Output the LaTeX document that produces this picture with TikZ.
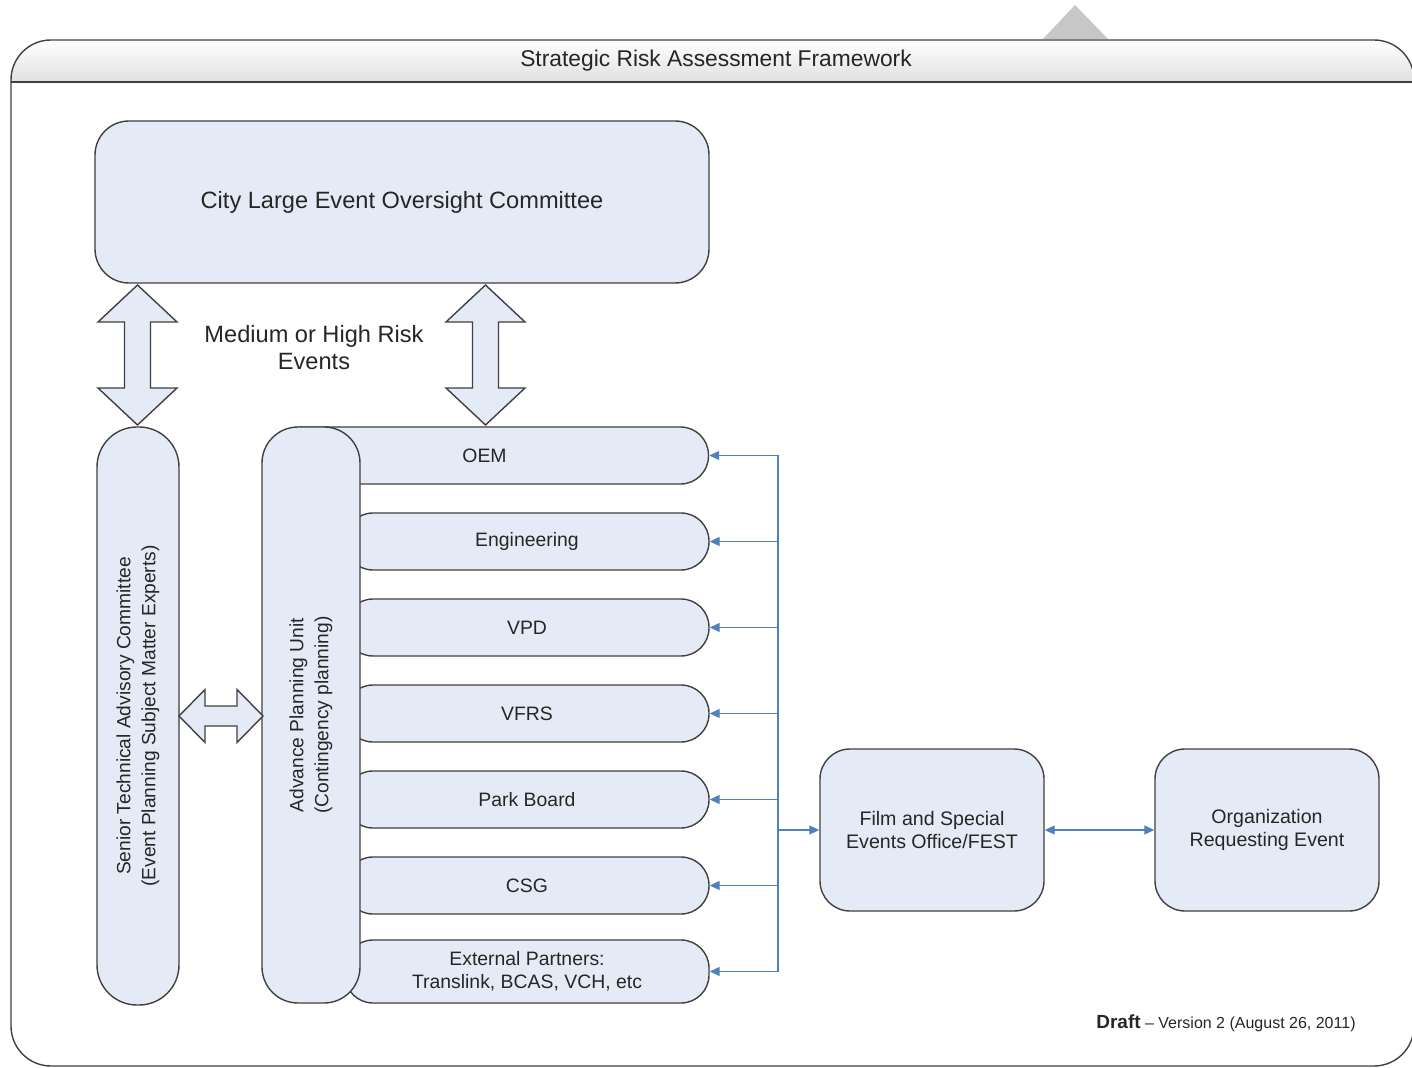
\documentclass[tikz,border=0pt]{standalone}
\usepackage{fontspec}
\setmainfont{Liberation Sans}
\usetikzlibrary{arrows.meta,positioning}
\definecolor{boxfill}{RGB}{229,235,246}
\definecolor{boxline}{RGB}{64,64,64}
\definecolor{linkblue}{RGB}{79,129,189}
\definecolor{headgray}{RGB}{224,224,224}

\tikzset{
  panel/.style={draw=boxline, fill=boxfill, line width=0.7pt, rounded corners=#1, align=center, inner sep=2pt, text=black!85},
  panel/.default=15pt,
  bar/.style={panel=14pt, minimum height=28.5pt, font=\fontsize{9.7}{11.5}\selectfont},
  bigarrow/.style={draw=boxline, fill=boxfill, line width=0.7pt, line join=miter},
  link/.style={draw=linkblue, line width=0.6pt, ->},
  >={Triangle[length=5pt,width=4.5pt]},
}

\begin{document}
\begin{tikzpicture}[x=0.5pt, y=-0.5pt]
  \useasboundingbox (0,0) rectangle (1412,1068);
  % grey marker on top of the frame
  \fill[black!22] (1043,39) -- (1075,5) -- (1108,39) -- cycle;
  % frame with header band
  \begin{scope}
    \clip[rounded corners=20pt] (11,1066) -- (11,40) -- (1414,40) -- (1414,1066) -- cycle;
    \shade[top color=white, bottom color=headgray] (11,40) rectangle (1414,82);
  \end{scope}
  \draw[boxline, line width=0.7pt, rounded corners=20pt] (11,1066) -- (11,40) -- (1414,40) -- (1414,1066) -- cycle;
  \draw[boxline, line width=0.7pt] (11,82) -- (1414,82);
  \node[text=black!85, font=\fontsize{11.4}{13}\selectfont] (title) at (716,61) {Strategic Risk Assessment Framework};

  % committee on top
  \node[panel=17pt, minimum width=307pt, minimum height=81pt, font=\fontsize{11.8}{14}\selectfont] (clec) at (402,202) {City Large Event Oversight Committee};
  \node[align=center, text=black!85, font=\fontsize{11.8}{13.5}\selectfont] (risk) at (314,348) {Medium or High Risk\\Events};

  % left column
  \node[panel=20pt, minimum width=289pt, minimum height=41pt, rotate=90, font=\fontsize{9.6}{12.5}\selectfont] (stac) at (138,716) {Senior Technical Advisory Committee\\(Event Planning Subject Matter Experts)};

  % agency bars (drawn before the planning unit)
  \node[bar, minimum width=217pt] (oem) at (491.5,455.5) {\hspace*{-7pt}OEM};
  \node[bar, minimum width=182pt] (eng) at (527,541.5) {Engineering};
  \node[bar, minimum width=182pt] (vpd) at (527,627.5) {VPD};
  \node[bar, minimum width=182pt] (vfrs) at (527,713.5) {VFRS};
  \node[bar, minimum width=182pt] (park) at (527,799.5) {Park Board};
  \node[bar, minimum width=182pt] (csg) at (527,885.5) {CSG};
  \node[bar, minimum width=182pt, minimum height=31.5pt] (ext) at (527,971.5) {External Partners:\\Translink, BCAS, VCH, etc};

  \node[panel=18pt, minimum width=288pt, minimum height=49pt, rotate=90, font=\fontsize{9.6}{12.5}\selectfont] (apu) at (311,715) {Advance Planning Unit\\(Contingency planning)};

  % block arrows
  \draw[bigarrow] (137.5,285) -- (177,322) -- (150.5,322) -- (150.5,388) -- (177,388) -- (137.5,425)
    -- (98,388) -- (124.5,388) -- (124.5,322) -- (98,322) -- cycle;
  \draw[bigarrow] (485.5,285) -- (525,322) -- (498.5,322) -- (498.5,388) -- (525,388) -- (485.5,425)
    -- (446,388) -- (472.5,388) -- (472.5,322) -- (446,322) -- cycle;
  \draw[bigarrow] (179,716) -- (205,689.5) -- (205,706) -- (237,706) -- (237,689.5) -- (263,716)
    -- (237,742.5) -- (237,726) -- (205,726) -- (205,742.5) -- cycle;

  % event office and organizer
  \node[panel=15pt, minimum width=112pt, minimum height=81pt, font=\fontsize{9.8}{11.5}\selectfont] (fest) at (932,830) {Film and Special\\Events Office/FEST};
  \node[panel=15pt, minimum width=112pt, minimum height=81pt, font=\fontsize{9.8}{11.5}\selectfont] (org) at (1267,830) {Organization\\Requesting Event};

  % blue links
  \coordinate (bus) at (778,455.5);
  \draw[linkblue, line width=0.6pt] (bus) -- (bus |- ext);
  \draw[link] (bus) -- (oem.east);
  \draw[link] (bus |- eng) -- (eng.east);
  \draw[link] (bus |- vpd) -- (vpd.east);
  \draw[link] (bus |- vfrs) -- (vfrs.east);
  \draw[link] (bus |- park) -- (park.east);
  \draw[link] (bus |- csg) -- (csg.east);
  \draw[link] (bus |- ext) -- (ext.east);
  \draw[link] (bus |- fest) -- (fest.west);
  \draw[link, <->] (fest) -- (org);

  \node[anchor=east, inner sep=0pt, text=black!85, font=\fontsize{8}{10}\selectfont] (draft) at (1356,1023) {{\fontsize{9.5}{10}\selectfont\bfseries Draft} -- Version 2 (August 26, 2011)};
\end{tikzpicture}
\end{document}
